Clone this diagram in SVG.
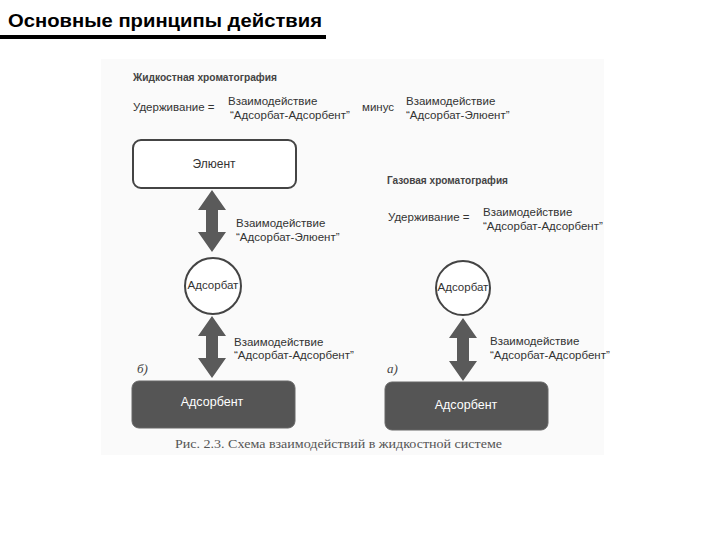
<svg xmlns="http://www.w3.org/2000/svg" width="720" height="540" viewBox="0 0 720 540">
<style>
.t{font-family:"Liberation Sans",Arial,sans-serif;fill:#333;font-size:11.5px}
.h{font-family:"Liberation Sans",Arial,sans-serif;fill:#444;font-size:11px;font-weight:bold}
.lbl{font-family:"Liberation Sans",Arial,sans-serif;fill:#333;font-size:12px}
.w{font-family:"Liberation Sans",Arial,sans-serif;fill:#fff;font-size:12.5px;text-anchor:middle}
.it{font-family:"Liberation Serif","Times New Roman",serif;fill:#444;font-size:13px;font-style:italic}
.light{fill:#fff;stroke:#444;stroke-width:2}
.dark{fill:#555;stroke:#666;stroke-width:1}
.arr{fill:#5a5a5a}
</style>
<rect width="720" height="540" fill="#fff"/>
<text x="8" y="27" font-family="Liberation Sans,Arial,sans-serif" font-size="18" font-weight="bold" fill="#000" textLength="314" lengthAdjust="spacingAndGlyphs">Основные принципы действия</text>
<rect x="0" y="35" width="326" height="4" fill="#000"/>
<rect x="101" y="59" width="503" height="396" fill="#fafafa"/>

<text class="h" x="133" y="81" textLength="144" lengthAdjust="spacingAndGlyphs">Жидкостная хроматография</text>
<text class="t" x="133" y="111" font-size="12">Удерживание =</text>
<text class="t" x="228" y="105">Взаимодействие</text>
<text class="t" x="230" y="119">“Адсорбат-Адсорбент”</text>
<text class="t" x="362" y="111" font-size="10.5">минус</text>
<text class="t" x="406" y="105">Взаимодействие</text>
<text class="t" x="406" y="119">“Адсорбат-Элюент”</text>

<text class="h" x="387" y="184" textLength="121" lengthAdjust="spacingAndGlyphs">Газовая хроматография</text>
<text class="t" x="388" y="221" font-size="12">Удерживание =</text>
<text class="t" x="483" y="216">Взаимодействие</text>
<text class="t" x="483" y="230">“Адсорбат-Адсорбент”</text>

<g id="connectors">
<path class="arr" d="M212,190 L226,210 L218,210 L218,232 L226,232 L212,252 L198,232 L206,232 L206,210 L198,210 Z"/>
<path class="arr" d="M212,316 L226,336 L218,336 L218,358 L226,358 L212,378 L198,358 L206,358 L206,336 L198,336 Z"/>
<path class="arr" d="M463,318 L477,338 L469,338 L469,361 L477,361 L463,381 L449,361 L457,361 L457,338 L449,338 Z"/>
<text class="t" x="236" y="227">Взаимодействие</text>
<text class="t" x="236" y="241">“Адсорбат-Элюент”</text>
<text class="t" x="234" y="346">Взаимодействие</text>
<text class="t" x="234" y="359">“Адсорбат-Адсорбент”</text>
<text class="t" x="490" y="345">Взаимодействие</text>
<text class="t" x="490" y="359">“Адсорбат-Адсорбент”</text>
</g>

<g id="eluent">
<rect class="light" x="133" y="140" width="163" height="48" rx="8"/>
<text class="lbl" x="214" y="168" text-anchor="middle">Элюент</text>
</g>
<g id="adsorbate-left">
<circle class="light" cx="213" cy="286" r="28" stroke-width="1.8"/>
<text class="t" x="213" y="289" font-size="8.5" text-anchor="middle">Адсорбат</text>
</g>
<g id="adsorbent-left">
<rect class="dark" x="132" y="381" width="163" height="47" rx="7"/>
<text class="w" x="212" y="406">Адсорбент</text>
</g>
<g id="adsorbate-right">
<circle class="light" cx="463" cy="288" r="27" stroke-width="1.8"/>
<text class="t" x="463" y="291" font-size="8" text-anchor="middle">Адсорбат</text>
</g>
<g id="adsorbent-right">
<rect class="dark" x="385" y="382" width="163" height="48" rx="7"/>
<text class="w" x="466" y="409">Адсорбент</text>
</g>

<text class="it" x="137" y="373">б)</text>
<text class="it" x="387" y="373">а)</text>
<text x="175" y="448" font-family="Liberation Serif,'Times New Roman',serif" font-size="12.5" fill="#555" textLength="327" lengthAdjust="spacingAndGlyphs">Рис. 2.3. Схема взаимодействий в жидкостной системе</text>
</svg>
